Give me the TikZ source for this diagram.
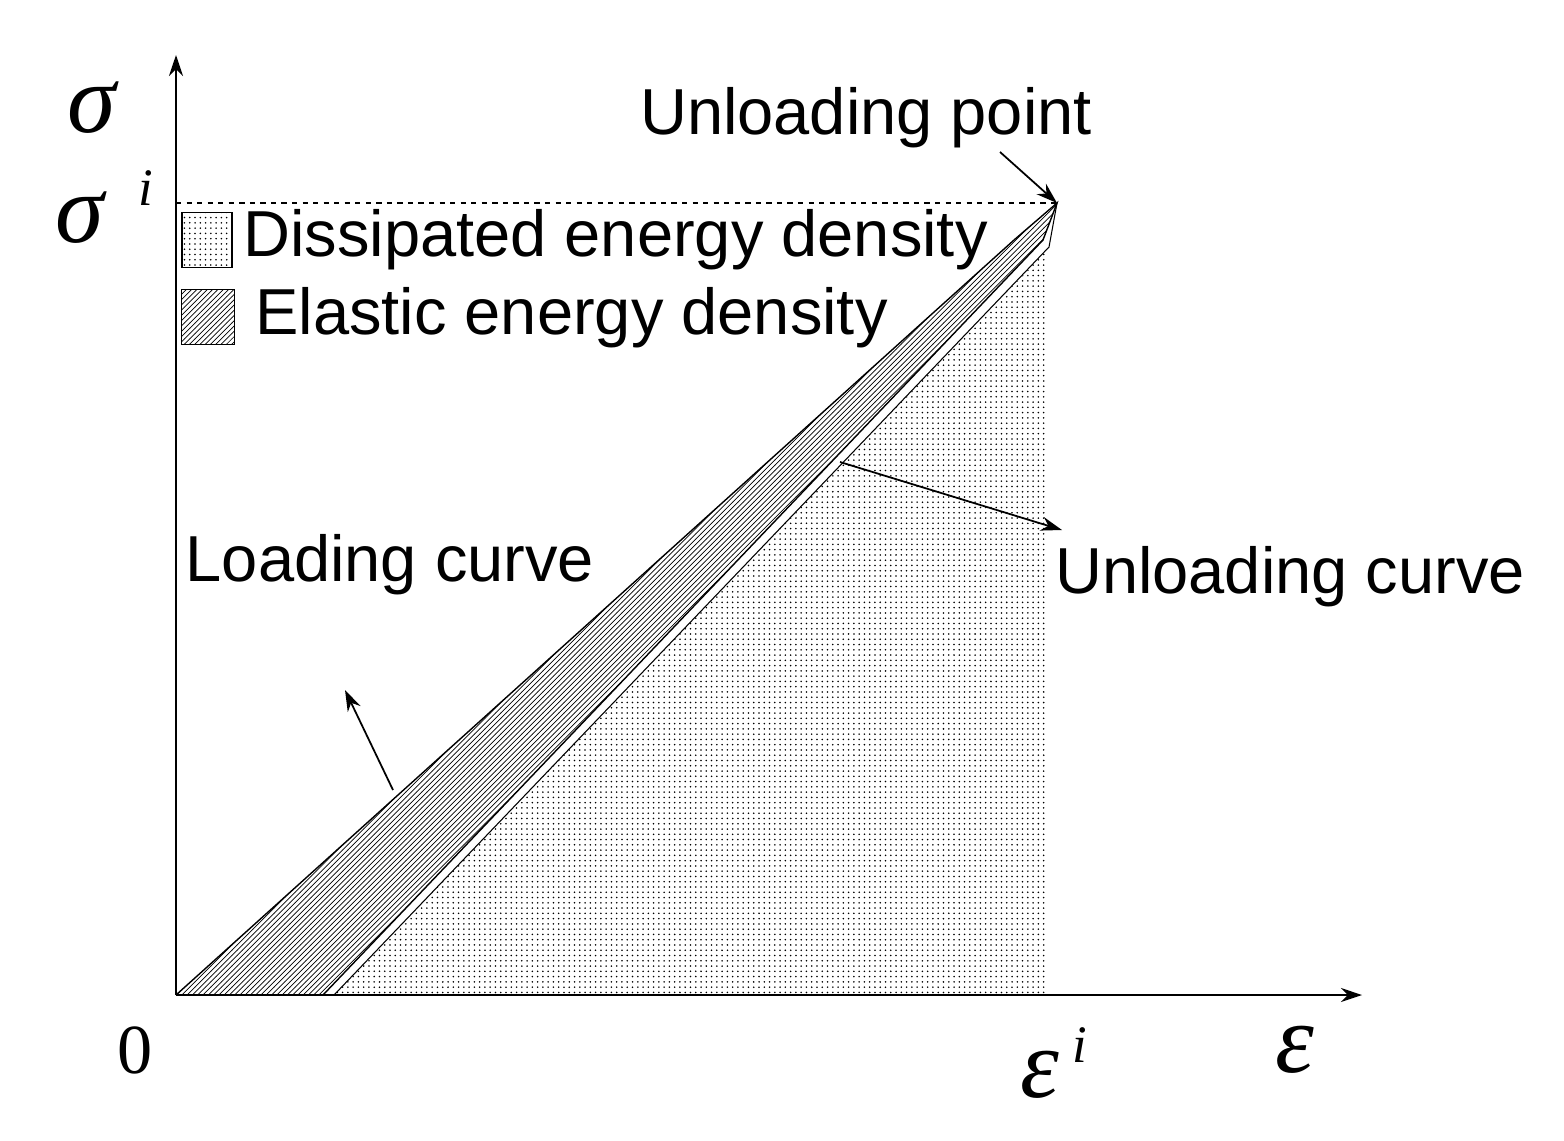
\documentclass[tikz,border=0pt]{standalone}
\usepackage{fontspec}
\setmainfont{Liberation Sans}
\newfontfamily\grk{Liberation Serif}
\usetikzlibrary{patterns,arrows.meta}
\begin{document}
\begin{tikzpicture}[x=0.02cm,y=-0.02cm,
  lbl/.style={font=\fontsize{37}{42}\selectfont,inner sep=0},
  sym/.style={font=\fontsize{56}{60}\selectfont\grk\itshape,inner sep=0},
  sup/.style={font=\fontsize{30}{34}\selectfont\grk\itshape,inner sep=0},
  arr/.style={-{Stealth[length=12pt,width=8pt]},line width=1pt}]
\useasboundingbox (0,0) rectangle (1564,1140);
\coordinate (UP) at (1057,203);
% regions
\fill[pattern=dots] (334,995) -- (1047,250) -- (1047,995) -- cycle;
\fill[pattern=north east lines] (176,995) -- (1014,240) -- (UP) -- (1043,240) -- (323,995) -- cycle;
\draw[line width=0.8pt] (176,995) -- (1014,240) -- (UP) -- (1043,240) -- (323,995);
\draw[line width=0.6pt] (334,995) -- (1049,247) -- (UP);
% axes
\coordinate (O) at (176,995);
\coordinate (Ytop) at (176,55);
\coordinate (Xend) at (1362,995);
\draw[arr] (O) -- (Ytop);
\draw[arr] (O) -- (Xend);
\coordinate (YS) at (176,203);
\draw[dashed,line width=0.8pt] (YS) -- (UP);
% legend
\node[draw,line width=1pt,pattern=dots,minimum width=50*0.02cm,minimum height=55*0.02cm,inner sep=0] (b1) at (207,240) {};
\node[draw,line width=1pt,pattern=north east lines,minimum width=53*0.02cm,minimum height=55*0.02cm,inner sep=0] (b2) at (208,317) {};
\node[lbl,anchor=west] (t1) at (243,240) {Dissipated energy density};
\node[lbl,anchor=west] (t2) at (255,318) {Elastic energy density};
% labels
\node[sym] (s) at (92,108) {σ};
\node[sym] (si) at (80,218) {σ};
\node[sup] (sii) at (146,188) {i};
\node[font=\fontsize{40}{44}\selectfont\grk,inner sep=0] (z) at (135,1050) {0};
\node[sym] (ei) at (1040,1075) {ε};
\node[sup] (eii) at (1080,1045) {i};
\node[sym] (e) at (1295,1050) {ε};
\node[lbl] (up) at (866,118) {Unloading point};
\node[lbl] (lc) at (390,565) {Loading curve};
\node[lbl] (uc) at (1290,577) {Unloading curve};
\coordinate (a1) at (1000,152);
\coordinate (a2) at (393,790);
\coordinate (a2e) at (345,690);
\coordinate (a3) at (840,462);
\coordinate (a3e) at (1062,530);
\draw[arr] (a1) -- (UP);
\draw[arr] (a2) -- (a2e);
\draw[arr] (a3) -- (a3e);
\end{tikzpicture}
\end{document}
